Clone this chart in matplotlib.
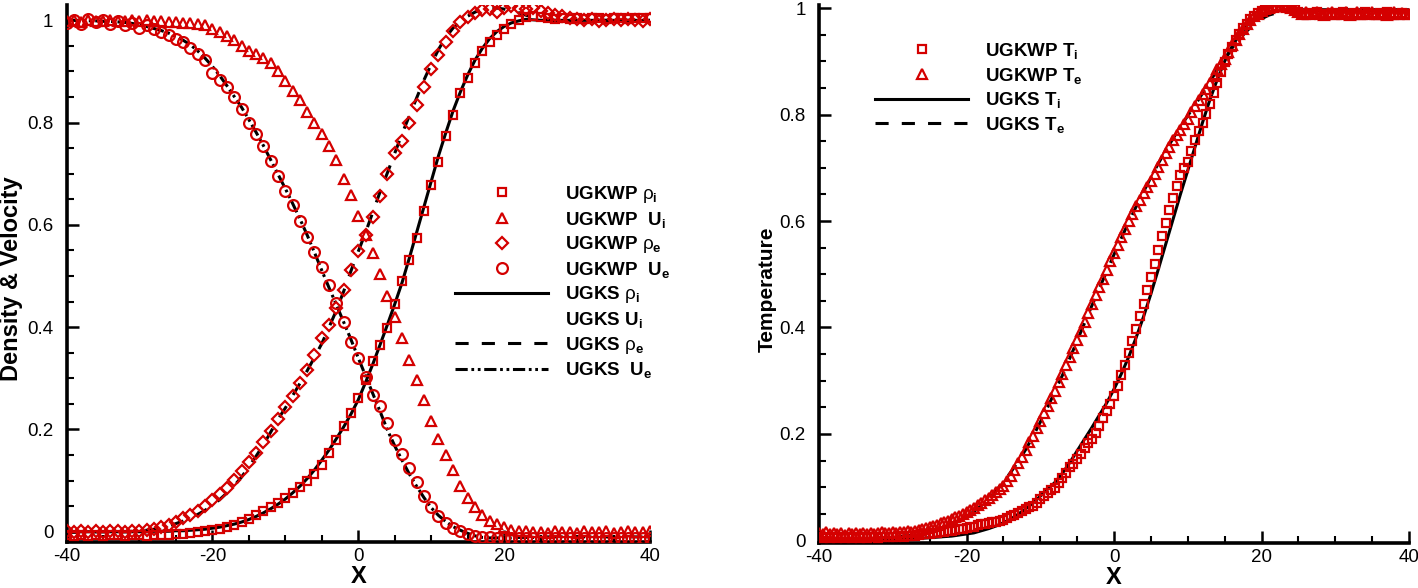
import numpy as np
import matplotlib
matplotlib.use("Agg")
import matplotlib.pyplot as plt
from matplotlib.lines import Line2D
from matplotlib.font_manager import FontProperties
from matplotlib.ticker import MultipleLocator, FuncFormatter

plt.rcParams['font.family'] = ['Liberation Sans', 'DejaVu Sans']
plt.rcParams['axes.unicode_minus'] = False
plt.rcParams['mathtext.fontset'] = 'custom'
plt.rcParams['mathtext.rm'] = 'Liberation Sans'
plt.rcParams['mathtext.it'] = 'Liberation Sans:italic'
plt.rcParams['mathtext.bf'] = 'Liberation Sans:bold'

# ---------------- data: left panel (x = -40..40, step 1) ----------------
x_left = np.arange(-40, 41, 1)

rho_i_ugks = [0, 0, 0, 0, 0, 0, 0, 0, 0, 0,
              0.000, 0.000, 0.001, 0.001, 0.001, 0.002, 0.002, 0.003, 0.004, 0.005,
              0.007, 0.009, 0.012, 0.015, 0.019, 0.024, 0.030, 0.037, 0.045, 0.054,
              0.064, 0.076, 0.089, 0.104, 0.121, 0.140, 0.160, 0.182, 0.205, 0.230,
              0.258, 0.292, 0.328, 0.366, 0.405, 0.445, 0.487, 0.535, 0.585, 0.635,
              0.685, 0.735, 0.780, 0.823, 0.860, 0.893, 0.922, 0.945, 0.964, 0.978,
              0.988, 0.995, 0.999, 1.002, 1.001, 1.0, 1.0, 1.0, 1.0, 1.0,
              1.0, 1.0, 1.0, 1.0, 1.0, 1.0, 1.0, 1.0, 1.0, 1.0, 1.0]

rho_i_ugkwp = [-0.007, -0.008, -0.006, -0.008, -0.007, -0.008, -0.006, -0.007, -0.008, -0.007,
               -0.007, -0.008, -0.007, -0.007, -0.006, -0.005, -0.004, -0.002, 0.000, 0.001,
               0.003, 0.006, 0.010, 0.014, 0.019, 0.025, 0.032, 0.040, 0.048, 0.056,
               0.066, 0.076, 0.087, 0.099, 0.113, 0.130, 0.155, 0.180, 0.206, 0.233,
               0.262, 0.296, 0.333, 0.365, 0.398, 0.445, 0.490, 0.531, 0.575, 0.628,
               0.679, 0.723, 0.773, 0.815, 0.857, 0.888, 0.917, 0.940, 0.958, 0.972,
               0.984, 0.993, 1.000, 1.006, 1.008, 1.006, 1.004, 1.003, 1.004, 1.003,
               1.004, 1.003, 1.005, 1.004, 1.003, 1.005, 1.004, 1.003, 1.004, 1.005, 1.004]

u_i_ugkwp = [0.998, 1.000, 0.997, 1.001, 0.999, 0.998, 1.000, 0.999, 0.998, 1.000,
             0.999, 1.000, 0.999, 0.998, 0.997, 0.996, 0.995, 0.994, 0.993, 0.990,
             0.983, 0.977, 0.970, 0.962, 0.950, 0.940, 0.934, 0.926, 0.916, 0.900,
             0.882, 0.862, 0.844, 0.821, 0.800, 0.777, 0.754, 0.726, 0.690, 0.658,
             0.617, 0.581, 0.545, 0.505, 0.461, 0.420, 0.379, 0.336, 0.297, 0.258,
             0.216, 0.181, 0.150, 0.120, 0.090, 0.066, 0.048, 0.033, 0.022, 0.015,
             0.009, 0.004, 0.002, 0.001, -0.001, 0.000, -0.002, 0.001, -0.001, 0.000,
             -0.002, 0.001, 0.000, -0.001, 0.001, -0.002, 0.000, 0.001, -0.001, 0.000, 0.001]

rho_e_ugks = [0, 0, 0, 0, 0, 0, 0, 0, 0, 0.001,
              0.002, 0.003, 0.005, 0.008, 0.011, 0.016, 0.021, 0.027, 0.034, 0.042,
              0.052, 0.063, 0.076, 0.090, 0.107, 0.127, 0.148, 0.170, 0.195, 0.220,
              0.242, 0.266, 0.290, 0.315, 0.341, 0.368, 0.400, 0.433, 0.470, 0.510,
              0.548, 0.585, 0.625, 0.665, 0.702, 0.740, 0.778, 0.813, 0.848, 0.883,
              0.914, 0.943, 0.967, 0.985, 0.998, 1.008, 1.016, 1.022, 1.025, 1.024,
              1.022, 1.018, 1.015, 1.010, 1.006, 1.003, 1.001, 1.0, 1.0, 1.0,
              1.0, 1.0, 1.0, 1.0, 1.0, 1.0, 1.0, 1.0, 1.0, 1.0, 1.0]

rho_e_ugkwp = [0.001, 0.000, 0.002, -0.001, 0.001, 0.000, 0.002, 0.001, 0.000, 0.001,
               0.002, 0.004, 0.006, 0.009, 0.014, 0.019, 0.026, 0.033, 0.041, 0.051,
               0.062, 0.074, 0.085, 0.102, 0.118, 0.137, 0.155, 0.175, 0.198, 0.220,
               0.243, 0.266, 0.291, 0.316, 0.345, 0.378, 0.405, 0.437, 0.473, 0.512,
               0.549, 0.580, 0.615, 0.657, 0.700, 0.740, 0.765, 0.800, 0.835, 0.870,
               0.905, 0.932, 0.958, 0.980, 0.996, 1.007, 1.014, 1.020, 1.023, 1.016,
               1.024, 1.028, 1.025, 1.022, 1.024, 1.018, 1.015, 1.010, 1.008, 1.005,
               1.002, 1.000, 1.003, 0.999, 1.001, 1.002, 1.000, 1.003, 1.001, 0.999, 1.002]

u_e_ugks = [1.0, 1.0, 1.0, 0.999, 0.999, 0.998, 0.998, 0.997, 0.996, 0.994,
            0.991, 0.988, 0.984, 0.980, 0.975, 0.969, 0.961, 0.952, 0.940, 0.926,
            0.910, 0.892, 0.872, 0.851, 0.830, 0.806, 0.781, 0.755, 0.727, 0.699,
            0.671, 0.642, 0.612, 0.580, 0.546, 0.511, 0.477, 0.444, 0.410, 0.376,
            0.340, 0.305, 0.270, 0.235, 0.199, 0.168, 0.140, 0.113, 0.089, 0.067,
            0.047, 0.032, 0.020, 0.010, 0.003, -0.003, -0.008, -0.011, -0.012, -0.012,
            -0.012, -0.012, -0.011, -0.011, -0.011, -0.010, -0.010, -0.010, -0.010, -0.010,
            -0.010, -0.010, -0.010, -0.010, -0.010, -0.010, -0.010, -0.010, -0.010, -0.010, -0.010]

u_e_ugkwp = [0.995, 1.000, 0.993, 1.002, 0.996, 1.000, 0.992, 0.998, 0.990, 0.995,
             0.986, 0.990, 0.983, 0.978, 0.972, 0.964, 0.957, 0.945, 0.935, 0.922,
             0.898, 0.884, 0.869, 0.850, 0.826, 0.800, 0.777, 0.755, 0.725, 0.695,
             0.667, 0.638, 0.608, 0.577, 0.547, 0.518, 0.482, 0.447, 0.410, 0.372,
             0.340, 0.302, 0.268, 0.245, 0.213, 0.180, 0.153, 0.124, 0.097, 0.069,
             0.049, 0.031, 0.018, 0.008, 0.001, -0.005, -0.009, -0.010, -0.011, -0.012,
             -0.012, -0.013, -0.012, -0.012, -0.013, -0.012, -0.012, -0.013, -0.012, -0.012,
             -0.012, -0.013, -0.012, -0.012, -0.013, -0.012, -0.012, -0.013, -0.012, -0.012, -0.013]

# ---------------- data: right panel ----------------
x_right_line = np.arange(-40, 41, 1)
x_right_mark = np.arange(-40, 40.25, 0.5)

t_i_ugks = [0.0, 0.0, 0.0, 0.0, 0.0, 0.0, 0.0, 0.001, 0.001, 0.001,
            0.002, 0.002, 0.003, 0.003, 0.004, 0.005, 0.006, 0.007, 0.008, 0.010,
            0.012, 0.014, 0.018, 0.022, 0.027, 0.033, 0.040, 0.049, 0.059, 0.070,
            0.083, 0.096, 0.109, 0.126, 0.146, 0.168, 0.190, 0.212, 0.235, 0.258,
            0.284, 0.313, 0.345, 0.381, 0.420, 0.463, 0.509, 0.556, 0.603, 0.650,
            0.695, 0.740, 0.785, 0.828, 0.866, 0.900, 0.928, 0.950, 0.967, 0.979,
            0.987, 0.992, 0.995, 0.997, 0.998, 0.997, 0.997, 0.997, 0.997, 0.997,
            0.997, 0.997, 0.997, 0.997, 0.997, 0.997, 0.997, 0.997, 0.997, 0.997, 0.997]

t_e_ugks = [0.0, 0.0, 0.001, 0.001, 0.001, 0.002, 0.002, 0.003, 0.003, 0.004,
            0.005, 0.007, 0.009, 0.011, 0.013, 0.015, 0.019, 0.024, 0.030, 0.037,
            0.045, 0.054, 0.065, 0.078, 0.093, 0.110, 0.128, 0.148, 0.170, 0.195,
            0.222, 0.250, 0.280, 0.310, 0.342, 0.375, 0.408, 0.441, 0.473, 0.505,
            0.537, 0.568, 0.598, 0.627, 0.655, 0.682, 0.708, 0.732, 0.755, 0.777,
            0.798, 0.818, 0.840, 0.862, 0.884, 0.905, 0.925, 0.942, 0.957, 0.970,
            0.980, 0.987, 0.991, 0.994, 0.995, 0.996, 0.996, 0.996, 0.996, 0.996,
            0.996, 0.996, 0.996, 0.996, 0.996, 0.996, 0.996, 0.996, 0.996, 0.996, 0.996]

t_i_ugkwp = [0.006, 0.004, 0.007, 0.005, 0.006, 0.004, 0.007, 0.005, 0.006, 0.005,
             0.007, 0.005, 0.006, 0.004, 0.007, 0.006, 0.005, 0.007, 0.006, 0.007,
             0.006, 0.007, 0.008, 0.007, 0.008, 0.008, 0.009, 0.010, 0.011, 0.011,
             0.012, 0.013, 0.014, 0.015, 0.016, 0.017, 0.018, 0.019, 0.021, 0.022,
             0.024, 0.025, 0.026, 0.028, 0.030, 0.031, 0.033, 0.034, 0.035, 0.037,
             0.039, 0.042, 0.045, 0.048, 0.052, 0.055, 0.059, 0.062, 0.065, 0.071,
             0.077, 0.083, 0.089, 0.094, 0.099, 0.108, 0.118, 0.127, 0.137, 0.144,
             0.152, 0.163, 0.174, 0.182, 0.190, 0.202, 0.215, 0.229, 0.243, 0.257,
             0.272, 0.290, 0.310, 0.330, 0.352, 0.375, 0.398, 0.421, 0.445, 0.470,
             0.495, 0.520, 0.546, 0.571, 0.596, 0.620, 0.643, 0.665, 0.686, 0.700,
             0.711, 0.731, 0.752, 0.769, 0.785, 0.802, 0.820, 0.840, 0.860, 0.880,
             0.898, 0.913, 0.927, 0.940, 0.952, 0.962, 0.971, 0.979, 0.986, 0.991,
             0.995, 0.998, 1.000, 1.002, 1.004, 1.005, 1.006, 1.005, 1.003, 0.998,
             0.993, 0.990, 0.988, 0.991, 0.989, 0.992, 0.990, 0.987, 0.990, 0.991,
             0.988, 0.990, 0.992, 0.989, 0.987, 0.991, 0.990, 0.988, 0.992, 0.989,
             0.990, 0.988, 0.991, 0.989, 0.992, 0.990, 0.987, 0.990, 0.991, 0.989,
             0.990]

t_e_ugkwp = [0.014, 0.012, 0.015, 0.011, 0.013, 0.012, 0.014, 0.010, 0.013, 0.012,
             0.014, 0.011, 0.013, 0.012, 0.014, 0.012, 0.013, 0.015, 0.013, 0.014,
             0.015, 0.014, 0.016, 0.015, 0.017, 0.016, 0.018, 0.019, 0.021, 0.023,
             0.025, 0.027, 0.029, 0.032, 0.034, 0.037, 0.040, 0.043, 0.046, 0.049,
             0.053, 0.057, 0.061, 0.066, 0.070, 0.075, 0.080, 0.085, 0.090, 0.096,
             0.103, 0.111, 0.120, 0.132, 0.145, 0.157, 0.170, 0.184, 0.197, 0.211,
             0.225, 0.239, 0.253, 0.267, 0.281, 0.297, 0.313, 0.329, 0.345, 0.361,
             0.377, 0.393, 0.410, 0.428, 0.445, 0.461, 0.477, 0.492, 0.508, 0.524,
             0.540, 0.555, 0.570, 0.585, 0.600, 0.614, 0.628, 0.640, 0.652, 0.664,
             0.675, 0.689, 0.702, 0.715, 0.728, 0.740, 0.752, 0.762, 0.772, 0.782,
             0.792, 0.804, 0.816, 0.827, 0.838, 0.849, 0.860, 0.872, 0.885, 0.895,
             0.905, 0.917, 0.930, 0.941, 0.952, 0.961, 0.970, 0.978, 0.985, 0.990,
             0.995, 0.998, 1.000, 1.002, 1.004, 1.005, 1.005, 1.003, 1.000, 0.996,
             0.993, 0.990, 0.992, 0.989, 0.991, 0.993, 0.990, 0.988, 0.991, 0.992,
             0.989, 0.991, 0.990, 0.993, 0.988, 0.990, 0.992, 0.989, 0.991, 0.990,
             0.992, 0.989, 0.990, 0.991, 0.988, 0.990, 0.992, 0.989, 0.991, 0.990,
             0.990]

left_labels = ["UGKWP $\\mathrm{\\rho}_\\mathbf{i}$", "UGKWP  U$_\\mathbf{i}$",
               "UGKWP $\\mathrm{\\rho}_\\mathbf{e}$", "UGKWP  U$_\\mathbf{e}$",
               "UGKS $\\mathrm{\\rho}_\\mathbf{i}$", "UGKS U$_\\mathbf{i}$",
               "UGKS $\\mathrm{\\rho}_\\mathbf{e}$", "UGKS  U$_\\mathbf{e}$"]
right_labels = ["UGKWP T$_\\mathbf{i}$", "UGKWP T$_\\mathbf{e}$",
                "UGKS T$_\\mathbf{i}$", "UGKS T$_\\mathbf{e}$"]

# ---------------- styling ----------------
RED = '#d40000'
MS = dict(markerfacecolor='none', markeredgecolor=RED, markeredgewidth=1.6, linestyle='none')
LW = 2.2
DASH = (4.3, 4.3)
DASHDOTDOT = (4.0, 1.2, 0.9, 1.2, 0.9, 1.2)
SQ, TR, DI, CI = 6.4, 7.4, 6.2, 7.8

W, H = 1418, 588
fig = plt.figure(figsize=(W / 100, H / 100), dpi=100)
ax1 = fig.add_axes([66.5 / W, 46 / H, 583.5 / W, 537 / H])
ax2 = fig.add_axes([819 / W, 45 / H, 590 / W, 538 / H])


def style_axes(ax, ylo, yhi):
    ax.set_xlim(-40, 40)
    ax.set_ylim(ylo, yhi)
    for s in ['top', 'right']:
        ax.spines[s].set_visible(False)
    for s in ['left', 'bottom']:
        ax.spines[s].set_linewidth(2.6)
    ax.xaxis.set_major_locator(MultipleLocator(20))
    ax.xaxis.set_minor_locator(MultipleLocator(5))
    ax.yaxis.set_major_locator(MultipleLocator(0.2))
    ax.yaxis.set_minor_locator(MultipleLocator(0.05))
    ax.xaxis.set_major_formatter(FuncFormatter(lambda v, p: f"{v:g}"))
    ax.yaxis.set_major_formatter(FuncFormatter(lambda v, p: f"{v:g}"))
    ax.tick_params(which='major', direction='in', length=8.5, width=1.8, labelsize=13.5)
    ax.tick_params(which='minor', direction='in', length=5, width=1.5)
    ax.tick_params(axis='y', which='major', pad=9.5)
    ax.tick_params(axis='x', which='major', pad=4.5)


style_axes(ax1, -0.02, 1.03)
style_axes(ax2, -0.005, 1.006)

# ---- left panel ----
ax1.plot(x_left, rho_i_ugks, color='k', lw=LW, zorder=2)
ax1.plot(x_left, rho_e_ugks, color='k', lw=LW, dashes=DASH, zorder=2)
ax1.plot(x_left, u_e_ugks, color='k', lw=LW, dashes=DASHDOTDOT, zorder=2)
ax1.plot(x_left, rho_i_ugkwp, marker='s', markersize=SQ, zorder=3, **MS)
ax1.plot(x_left, u_i_ugkwp, marker='^', markersize=TR, zorder=3, **MS)
ax1.plot(x_left, rho_e_ugkwp, marker='D', markersize=DI, zorder=3, **MS)
ax1.plot(x_left, u_e_ugkwp, marker='o', markersize=CI, zorder=3, **MS)

hl = [Line2D([], [], marker='s', markersize=SQ, **MS),
      Line2D([], [], marker='^', markersize=TR, **MS),
      Line2D([], [], marker='D', markersize=DI, **MS),
      Line2D([], [], marker='o', markersize=CI, **MS),
      Line2D([], [], color='k', lw=LW),
      Line2D([], [], linestyle='none'),
      Line2D([], [], color='k', lw=LW, dashes=DASH),
      Line2D([], [], color='k', lw=LW, dashes=DASHDOTDOT)]

fp = FontProperties(family='Liberation Sans', weight='bold', size=13.5)
ax1.legend(hl, left_labels, loc='upper left',
           bbox_to_anchor=((455 - 66.5) / 583.5, (542 - 184) / 537),
           bbox_transform=ax1.transAxes, prop=fp, frameon=False, numpoints=1,
           handlelength=4.96, handletextpad=0.9, labelspacing=0.245,
           borderpad=0, borderaxespad=0)

ax1.set_xlabel('X', fontsize=17, fontweight='bold', va='top')
ax1.xaxis.set_label_coords(0.5, -0.043)
ax1.set_ylabel('Density & Velocity', fontsize=17, fontweight='bold')
ax1.yaxis.set_label_coords(-0.075, 0.49)

# ---- right panel ----
ax2.plot(x_right_line, t_i_ugks, color='k', lw=LW, zorder=2)
ax2.plot(x_right_line, t_e_ugks, color='k', lw=LW, dashes=DASH, zorder=2)
ax2.plot(x_right_mark, t_i_ugkwp, marker='s', markersize=SQ, zorder=3, **MS)
ax2.plot(x_right_mark, t_e_ugkwp, marker='^', markersize=TR, zorder=3, **MS)

hr = [Line2D([], [], marker='s', markersize=SQ, **MS),
      Line2D([], [], marker='^', markersize=TR, **MS),
      Line2D([], [], color='k', lw=LW),
      Line2D([], [], color='k', lw=LW, dashes=DASH)]
ax2.legend(hr, right_labels, loc='upper left',
           bbox_to_anchor=((875 - 819) / 590, (543 - 41) / 538),
           bbox_transform=ax2.transAxes, prop=fp, frameon=False, numpoints=1,
           handlelength=4.96, handletextpad=0.9, labelspacing=0.245,
           borderpad=0, borderaxespad=0)

ax2.set_xlabel('X', fontsize=17, fontweight='bold', va='top')
ax2.xaxis.set_label_coords(0.5, -0.043)
ax2.set_ylabel('Temperature', fontsize=15, fontweight='bold')
ax2.yaxis.set_label_coords(-0.071, 0.472)

fig.savefig('out.png', dpi=100)
